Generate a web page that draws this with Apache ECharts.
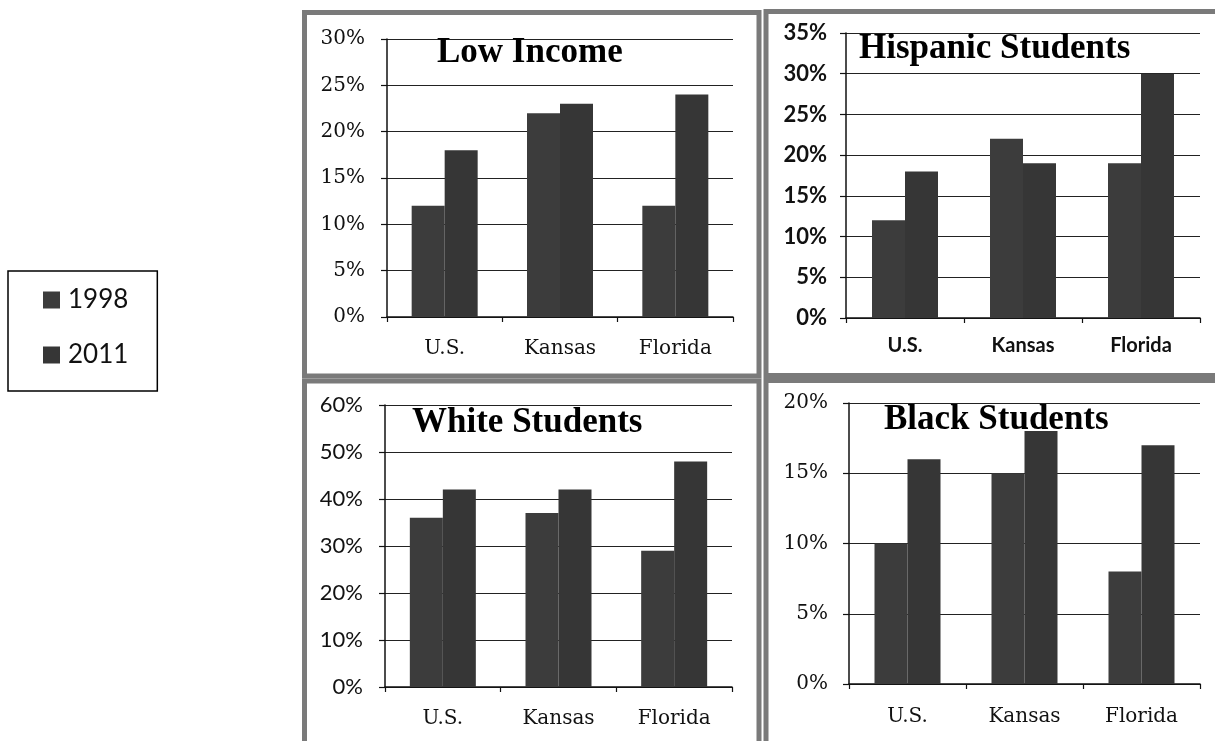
<!DOCTYPE html>
<html>
<head>
<meta charset="utf-8">
<script src="https://cdn.jsdelivr.net/npm/echarts@6/dist/echarts.min.js"></script>
<style>
html,body{margin:0;padding:0;background:#fff;}
#c{width:1215px;height:741px;}
</style>
</head>
<body>
<div id="c"></div>
<script>
const categories = ['U.S.', 'Kansas', 'Florida'];
const seriesNames = ['1998', '2011'];
const panelTitles = ['Low Income', 'Hispanic Students', 'White Students', 'Black Students'];
const lowIncome1998 = [12, 22, 12];
const lowIncome2011 = [18, 23, 24];
const hispanic1998 = [12, 22, 19];
const hispanic2011 = [18, 19, 30];
const white1998 = [36, 37, 29];
const white2011 = [42, 42, 48];
const black1998 = [10, 15, 8];
const black2011 = [16, 18, 17];
const yMax = [30, 35, 60, 20];
const yInterval = [5, 5, 10, 5];

const panelData = [
  [lowIncome1998, lowIncome2011],
  [hispanic1998, hispanic2011],
  [white1998, white2011],
  [black1998, black2011]
];

const SERIF = '"DejaVu Serif", serif';
const SANS = 'Lato, "Open Sans", sans-serif';

// layout (pixels)
const grids = [
  {left: 387, top: 39, width: 346, height: 278},
  {left: 846, top: 33, width: 354, height: 285},
  {left: 385, top: 405, width: 347, height: 282},
  {left: 849, top: 403, width: 351, height: 281}
];
const yLabelStyle = [
  {fontFamily: SERIF, fontSize: 20, fontWeight: 'normal', margin: 22},
  {fontFamily: SANS, fontSize: 22, fontWeight: 'bold', margin: 19},
  {fontFamily: SANS, fontSize: 22, fontWeight: 'normal', margin: 22},
  {fontFamily: SERIF, fontSize: 20, fontWeight: 'normal', margin: 21}
];
const xLabelStyle = [
  {fontFamily: SERIF, fontSize: 20, fontWeight: 'normal', margin: 22},
  {fontFamily: SANS, fontSize: 20, fontWeight: 'bold', margin: 18},
  {fontFamily: SERIF, fontSize: 20, fontWeight: 'normal', margin: 22},
  {fontFamily: SERIF, fontSize: 20, fontWeight: 'normal', margin: 23}
];
const titlePos = [
  {left: 437, center: 53, size: 35},
  {left: 859, center: 49, size: 35},
  {left: 412, center: 422.5, size: 35},
  {left: 884, center: 420, size: 35}
];
const barColors = ['#3c3c3c', '#363636'];

const chart = echarts.init(document.getElementById('c'), null, {renderer: 'canvas'});

const option = {
  animation: false,
  backgroundColor: '#ffffff',
  title: titlePos.map((t, i) => ({
    text: panelTitles[i],
    left: t.left,
    top: t.center - (t.size + 4) / 2,
    padding: 0,
    textStyle: {fontFamily: '"Liberation Serif", serif', fontWeight: 'bold', fontSize: t.size, color: '#000', lineHeight: t.size + 4}
  })),
  legend: {
    data: seriesNames,
    orient: 'vertical',
    left: 8,
    top: 271,
    width: 149,
    padding: [16, 29, 23, 35],
    itemWidth: 17,
    itemHeight: 17,
    itemGap: 29,
    borderColor: '#000',
    borderWidth: 1.5,
    icon: 'rect',
    textStyle: {fontFamily: SANS, fontSize: 26, color: '#111', lineHeight: 26, padding: [0, 0, 0, 3]}
  },
  grid: grids.map(g => Object.assign({containLabel: false}, g)),
  xAxis: grids.map((g, i) => ({
    type: 'category',
    gridIndex: i,
    data: categories,
    axisLine: {show: true, lineStyle: {color: '#111', width: 1.5}},
    axisTick: {show: true, length: 5, lineStyle: {color: '#111', width: 1.2}},
    axisLabel: Object.assign({color: '#111'}, xLabelStyle[i]),
    splitLine: {show: false}
  })),
  yAxis: grids.map((g, i) => ({
    type: 'value',
    gridIndex: i,
    min: 0,
    max: yMax[i],
    interval: yInterval[i],
    axisLine: {show: true, lineStyle: {color: '#111', width: 1.5}},
    axisTick: {show: true, length: 6, lineStyle: {color: '#111', width: 1.2}},
    axisLabel: Object.assign({color: '#111', formatter: '{value}%'}, yLabelStyle[i]),
    splitLine: {show: true, lineStyle: {color: '#222', width: 1.2}}
  })),
  series: [],
  graphic: []
};

panelData.forEach((pair, i) => {
  pair.forEach((vals, j) => {
    option.series.push({
      type: 'bar',
      name: seriesNames[j],
      xAxisIndex: i,
      yAxisIndex: i,
      data: vals,
      barWidth: 33,
      barGap: '0%',
      itemStyle: {color: barColors[j]}
    });
  });
});

// panel frames (decoration)
const frames = [
  {x1: 304.5, y1: 12.5, x2: 759, y2: 376},
  {x1: 766, y1: 11.5, x2: 1222, y2: 375.5},
  {x1: 304.5, y1: 381, x2: 759, y2: 760},
  {x1: 766, y1: 380.5, x2: 1222, y2: 760}
];
frames.forEach(f => {
  option.graphic.push({
    type: 'rect',
    shape: {x: f.x1, y: f.y1, width: f.x2 - f.x1, height: f.y2 - f.y1},
    style: {fill: 'none', stroke: '#7a7a7a', lineWidth: 5},
    silent: true,
    z: 100
  });
});

chart.setOption(option);
</script>
</body>
</html>
